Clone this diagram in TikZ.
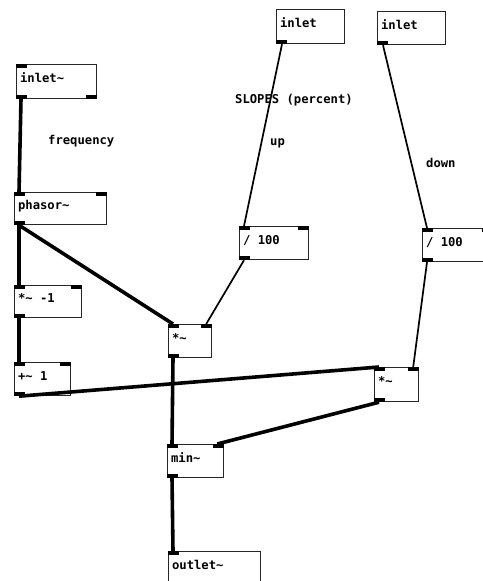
\documentclass[tikz,border=0pt]{standalone}
\usepackage{fontspec}
\newfontfamily\pdfont{DejaVu Sans Mono}
\newcommand\pdsp{\phantom{0}}
\begin{document}
\begin{tikzpicture}[x=1pt,y=-1pt,
  pdbox/.style={draw=black!85, line width=1.2pt, fill=white, inner xsep=3.5pt, inner ysep=0pt,
    text height=8.5pt, text depth=6pt,
    anchor=north west, align=left, font=\pdfont\bfseries\fontsize{12.2}{13}\selectfont},
  pdtext/.style={anchor=west, inner sep=0pt, font=\pdfont\bfseries\fontsize{12.2}{13}\selectfont},
  sig/.style={line width=3.6pt, black},
  ctl/.style={line width=1.7pt, black}]
\useasboundingbox (0,0) rectangle (482,581);
\fill[white] (0,0) rectangle (482,581);
% boxes (text width = w - 7)
\node[pdbox, text width=73pt, minimum height=34pt] (inlt) at (16,64) {inlet\textasciitilde};
\node[pdbox, text width=85pt, minimum height=32pt] (phasor) at (14,192) {phasor\textasciitilde};
\node[pdbox, text width=60pt, minimum height=32pt] (mulneg) at (14,285) {*\textasciitilde\pdsp-1};
\node[pdbox, text width=49pt, minimum height=33pt] (addone) at (14,362) {+\textasciitilde\pdsp 1};
\node[pdbox, text width=36pt, minimum height=33pt] (mulL) at (168,324) {*\textasciitilde};
\node[pdbox, text width=61pt, minimum height=34pt] (inU) at (276,9) {inlet};
\node[pdbox, text width=61pt, minimum height=33pt] (inD) at (377,11) {inlet};
\node[pdbox, text width=62pt, minimum height=33pt] (divL) at (239,226) {/\pdsp 100};
\node[pdbox, text width=63pt, minimum height=33pt] (divR) at (422,228) {/\pdsp 100};
\node[pdbox, text width=37pt, minimum height=34pt] (mulR) at (374,367) {*\textasciitilde};
\node[pdbox, text width=49pt, minimum height=33pt] (minb) at (167,444) {min\textasciitilde};
\node[pdbox, text width=85pt, minimum height=34pt] (outl) at (168,551) {outlet\textasciitilde};
% iolets
\newcommand\pdinl[1]{\fill (#1.north west) rectangle ++(11,4);}
\newcommand\pdinr[1]{\fill (#1.north east) rectangle ++(-11,4);}
\newcommand\pdoutl[1]{\fill (#1.south west) rectangle ++(11,-4);}
\newcommand\pdoutr[1]{\fill (#1.south east) rectangle ++(-11,-4);}
\pdinl{inlt}\pdoutl{inlt}\pdoutr{inlt}
\foreach \b in {phasor,mulneg,addone,mulL,divL,divR,mulR,minb}{\pdinl{\b}\pdinr{\b}\pdoutl{\b}}
\pdoutl{inU}\pdoutl{inD}\pdinl{outl}
% connections
\draw[sig] ([xshift=5pt]inlt.south west) -- ([xshift=5pt]phasor.north west);
\draw[sig] ([xshift=5pt]phasor.south west) -- ([xshift=5pt]mulneg.north west);
\draw[sig] ([xshift=5pt]phasor.south west) -- ([xshift=5pt]mulL.north west);
\draw[sig] ([xshift=5pt]mulneg.south west) -- ([xshift=5pt]addone.north west);
\draw[sig] ([xshift=5pt]addone.south west) -- ([xshift=5pt]mulR.north west);
\draw[sig] ([xshift=5pt]mulL.south west) -- ([xshift=5pt]minb.north west);
\draw[sig] ([xshift=5pt]mulR.south west) -- ([xshift=-7pt]minb.north east);
\draw[sig] ([xshift=5pt]minb.south west) -- ([xshift=5pt]outl.north west);
\draw[ctl] ([xshift=6pt]inU.south west) -- ([xshift=5pt]divL.north west);
\draw[ctl] ([xshift=5pt]divL.south west) -- ([xshift=-6pt]mulL.north east);
\draw[ctl] ([xshift=6pt]inD.south west) -- ([xshift=5pt]divR.north west);
\draw[ctl] ([xshift=5pt]divR.south west) -- ([xshift=-6pt]mulR.north east);
% comments
\node[pdtext] (tfreq) at (48,141) {frequency};
\node[pdtext] (tslopes) at (235,100) {SLOPES (percent)};
\node[pdtext] (tup) at (270,143) {up};
\node[pdtext] (tdown) at (426,163) {down};
\end{tikzpicture}
\end{document}
